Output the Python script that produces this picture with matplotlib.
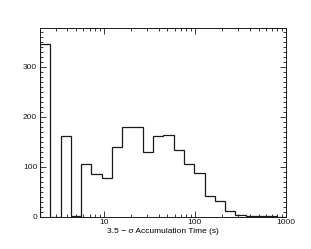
import numpy as np
import matplotlib
matplotlib.use("Agg")
import matplotlib.pyplot as plt
from matplotlib.ticker import LogLocator, MultipleLocator, FixedLocator, NullFormatter

# histogram of accumulation times, log-spaced bins
bin_start = 2.0
bin_ratio = 1.2967
counts = [345, 0, 161, 2, 105, 86, 77, 139, 179, 179, 129, 161, 164,
          134, 105, 88, 41, 31, 12, 3, 1, 1, 1, 0, 0, 0]
edges = bin_start * bin_ratio ** np.arange(len(counts) + 1)

x_ticks = [10, 100, 1000]
x_ticklabels = ["10", "100", "1000"]
y_ticks = [0, 100, 200, 300]

plt.rcParams["font.family"] = ["Liberation Sans", "DejaVu Sans"]

fig = plt.figure(figsize=(3.11, 2.49), dpi=100)
ax = fig.add_axes([0.1286, 0.1297, 0.7910, 0.7591])

ax.stairs(counts, edges, color="#1a1a1a", linewidth=0.9, baseline=0)

ax.set_xscale("log")
ax.set_xlim(2, 1000)
ax.set_ylim(0, 378)

ax.xaxis.set_major_locator(FixedLocator(x_ticks))
ax.set_xticklabels(x_ticklabels)
ax.xaxis.set_minor_locator(LogLocator(base=10, subs=np.arange(2, 10)))
ax.xaxis.set_minor_formatter(NullFormatter())
ax.set_yticks(y_ticks)
ax.yaxis.set_minor_locator(MultipleLocator(10))

ax.tick_params(which="both", direction="in", top=True, right=True,
               labelsize=6, width=0.6, pad=2, colors="#1a1a1a")
ax.tick_params(which="major", length=4)
ax.tick_params(which="minor", length=2)
for s in ax.spines.values():
    s.set_linewidth(0.7)
    s.set_color("#1a1a1a")

ax.set_xlabel("3.5 \u2212 \u03c3 Accumulation Time (s)", fontsize=6, labelpad=1)

fig.savefig("out.png", dpi=100)
